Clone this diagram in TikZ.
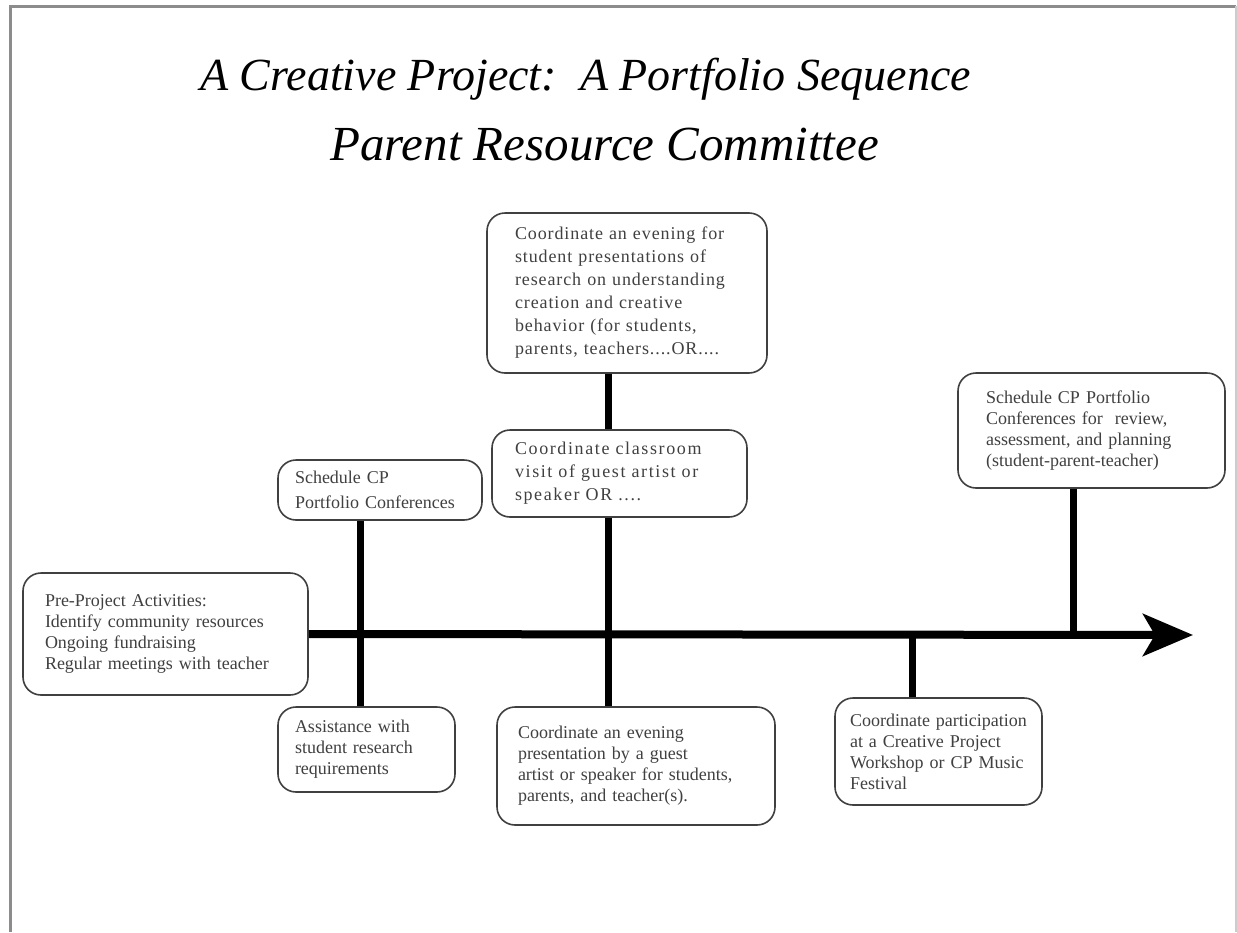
\documentclass[tikz,border=0pt]{standalone}
\usepackage{fontspec}
\setmainfont{Liberation Serif}
\usetikzlibrary{arrows.meta}
\newcommand{\Wide}{\addfontfeature{LetterSpace=9}}
\newcommand{\Wider}{\addfontfeature{LetterSpace=5}}
\tikzstyle{event} = [rectangle, rounded corners=18pt, draw=black!75, line width=1.6pt, fill=white, align=left, inner xsep=0pt, inner ysep=0pt, text=black!75, font=\fontsize{18}{21}\selectfont]
\tikzstyle{tick} = [line width=7pt, black]
\tikzstyle{axis} = [line width=8pt, black, -{Stealth[length=50pt,width=42pt,inset=12pt]}]
\tikzstyle{heading} = [anchor=base west, inner sep=0pt, font=\itshape\fontsize{46}{50}\selectfont]

\begin{document}
\begin{tikzpicture}[x=1pt, y=-1pt]
\useasboundingbox (0,0) rectangle (1237,932);
%\draw [help lines, step=100] (0,0) grid (1237,932);

% Frame
\draw[black!45, line width=3pt] (10,932) -- (10,6) -- (1236,6);
\draw[black!20, line width=2pt] (1236,6) -- (1236,932);

% Title
\node[heading] (title)  at (200,90)  {A Creative Project:\ \ A Portfolio Sequence};
\node[heading, font=\itshape\fontsize{49}{52}\selectfont] (titleb) at (330,160) {Parent Resource Committee};

% Define nodes
\node[event, minimum width=285pt, minimum height=122pt, text width=241pt] (pre)      at (165.5,634) {Pre-Project Activities:\\Identify community resources\\Ongoing fundraising\\Regular meetings with teacher};
\node[event, minimum width=204pt, minimum height=60pt,  text width=170pt, font=\fontsize{18}{25}\selectfont] (sched) at (380,490) {Schedule CP\\Portfolio Conferences};
\node[event, minimum width=177pt, minimum height=85pt,  text width=143pt] (assist)   at (366.5,749.5) {Assistance with\\student research\\requirements};
\node[event, minimum width=280pt, minimum height=160pt, text width=224pt, font=\fontsize{18}{23}\selectfont\Wider] (evening) at (627,293) {Coordinate an evening for\\student presentations of\\research on understanding\\creation and creative\\behavior (for students,\\parents, teachers....OR....};
\node[event, minimum width=255pt, minimum height=87pt,  text width=209pt, font=\fontsize{18}{23}\selectfont\Wide] (visit) at (619.5,473.5) {Coordinate classroom\\visit of guest artist or\\speaker OR ....};
\node[event, minimum width=278pt, minimum height=118pt, text width=236pt] (guest)    at (636,766)   {Coordinate an evening\\presentation by a guest\\artist or speaker for students,\\parents, and teacher(s).};
\node[event, minimum width=267pt, minimum height=115pt, text width=211pt] (review)   at (1091.5,430.5) {Schedule CP Portfolio\\Conferences for\ \ review,\\assessment, and planning\\(student-parent-teacher)};
\node[event, minimum width=207pt, minimum height=107pt, text width=177pt] (festival) at (938.5,751.5) {Coordinate participation\\at a Creative Project\\Workshop or CP Music\\Festival};

% Timeline
\coordinate (tip) at (1193,635);
\coordinate (t1) at (360,635);
\coordinate (t2) at (608,635);
\coordinate (t3) at (912,635);
\coordinate (t4) at (1073,635);

% Edges
\draw[axis] (pre.east) -- (tip);
\draw[tick] (t1 |- sched.south)   -- (t1 |- assist.north);
\draw[tick] (t2 |- evening.south) -- (t2 |- visit.north);
\draw[tick] (t2 |- visit.south)   -- (t2 |- guest.north);
\draw[tick] (t3)                  -- (t3 |- festival.north);
\draw[tick] (t4 |- review.south)  -- (t4);
\end{tikzpicture}
\end{document}
